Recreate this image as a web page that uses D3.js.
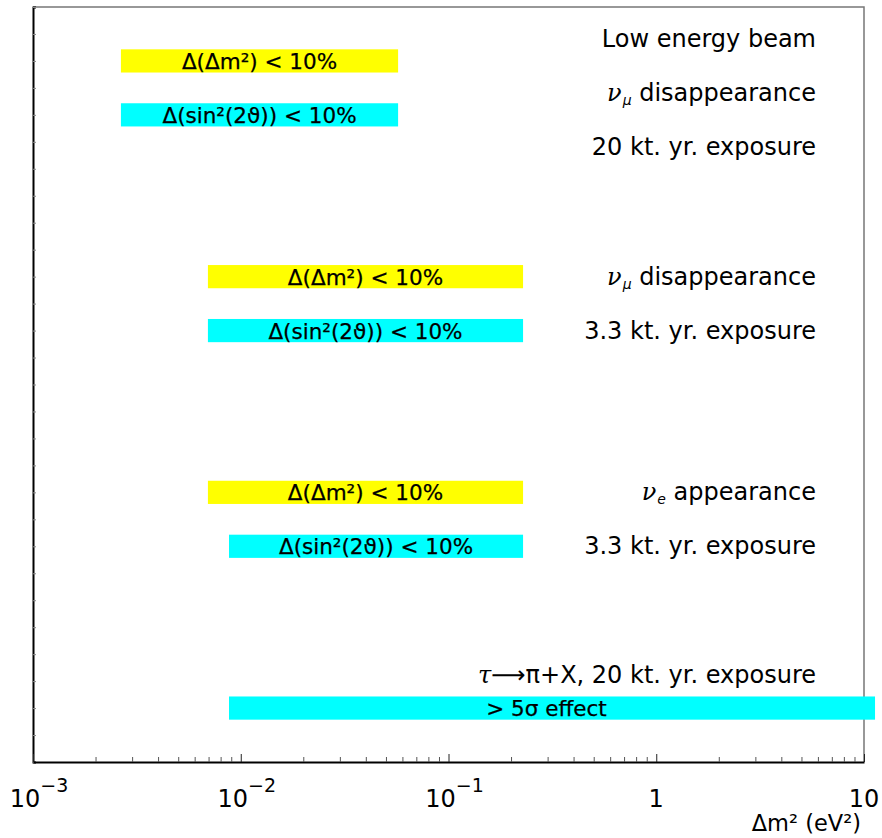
<!DOCTYPE html>
<html>
<head>
<meta charset="utf-8">
<script src="https://cdn.jsdelivr.net/npm/d3@7"></script>
<style>
  body { margin: 0; background: #fff; }
  svg { display: block; font-family: 'DejaVu Sans', 'Liberation Sans', sans-serif; }
</style>
</head>
<body>
<svg id="chart"></svg>
<script>
// bands: range in dm^2 (eV^2) and row on the vertical scale
const bandText = ['Δ(Δm²) < 10%', 'Δ(sin²(2ϑ)) < 10%',
                  'Δ(Δm²) < 10%', 'Δ(sin²(2ϑ)) < 10%',
                  'Δ(Δm²) < 10%', 'Δ(sin²(2ϑ)) < 10%',
                  '> 5σ effect'];
const bandKind = ['dm2', 'sin2', 'dm2', 'sin2', 'dm2', 'sin2', 'sigma'];
const bandLow  = [0.00265, 0.00265, 0.00695, 0.00695, 0.00695, 0.00878, 0.00878];
const bandHigh = [0.0572, 0.0572, 0.2285, 0.2285, 0.2285, 0.2285, 11.3];
const bandRow  = [1, 2, 5, 6, 9, 10, 13];

// notes on the right, each one a list of [text, style] pieces
const noteText = [
  [['Low energy beam', '']],
  [['ν', 'i'], ['μ', 'sub'], [' disappearance', '']],
  [['20 kt. yr. exposure', '']],
  [['ν', 'i'], ['μ', 'sub'], [' disappearance', '']],
  [['3.3 kt. yr. exposure', '']],
  [['ν', 'i'], ['e', 'sub'], [' appearance', '']],
  [['3.3 kt. yr. exposure', '']],
  [['τ', 'i'], ['⟶', ''], ['π+X, 20 kt. yr. exposure', '']]
];
const noteRow = [0.74, 1.74, 2.74, 5.15, 6.15, 9.15, 10.15, 12.54];

const xMajor = [1e-3, 1e-2, 1e-1, 1, 10];
const xMajorBase = ['10', '10', '10', '1', '10'];
const xMajorExp  = ['−3', '−2', '−1', '', ''];
const xTitle = 'Δm² (eV²)';

const width = 882, height = 838;
const margin = {top: 7, right: 18, bottom: 75, left: 33};

const svg = d3.select('#chart')
  .attr('width', width)
  .attr('height', height);

const x = d3.scaleLog()
  .domain([1e-3, 10])
  .range([margin.left, width - margin.right]);

const y = d3.scaleLinear()
  .domain([0, 14])
  .range([margin.top, height - margin.bottom - 1]);

const colour = {dm2: '#ffff00', sin2: '#00ffff', sigma: '#00ffff'};
const barH = 0.43;

// frame (top and right)
svg.append('path')
  .attr('d', `M${x(1e-3)},${y(0)}H${x(10)}V${y(14)}`)
  .attr('fill', 'none')
  .attr('stroke', '#777')
  .attr('stroke-width', 1.5);

// bands
const bands = d3.range(bandText.length);
svg.selectAll('rect.band')
  .data(bands)
  .enter()
  .append('rect')
  .attr('class', 'band')
  .attr('x', i => x(bandLow[i]))
  .attr('width', i => x(bandHigh[i]) - x(bandLow[i]))
  .attr('y', i => y(bandRow[i] - barH / 2))
  .attr('height', i => y(barH) - y(0))
  .attr('fill', i => colour[bandKind[i]]);

svg.selectAll('text.band')
  .data(bands)
  .enter()
  .append('text')
  .attr('class', 'band')
  .attr('x', i => (x(bandLow[i]) + Math.min(x(bandHigh[i]), x(10))) / 2)
  .attr('y', i => y(bandRow[i]) + 8)
  .attr('text-anchor', 'middle')
  .attr('font-size', 21.5)
  .attr('fill', '#000')
  .attr('stroke', '#000')
  .attr('stroke-width', 0.25)
  .text(i => bandText[i]);

// notes
noteText.forEach((pieces, k) => {
  const t = svg.append('text')
    .attr('x', 816)
    .attr('y', y(noteRow[k]))
    .attr('text-anchor', 'end')
    .attr('font-size', 24)
    .attr('fill', '#000');
  pieces.forEach(p => {
    const s = t.append('tspan').text(p[0]);
    if (p[1] === 'i') s.attr('font-style', 'italic').attr('font-family', 'DejaVu Serif');
    if (p[1] === 'sub') s.attr('font-size', 14).attr('font-style', 'italic').attr('dy', 4).attr('dx', 1);
    if (p[1] === '' && pieces.length > 1 && pieces[0][1] !== '' && k !== 7) s.attr('dy', -4);
  });
});

// y axis: no labels, small inward ticks
svg.append('g')
  .attr('transform', `translate(${margin.left},0)`)
  .call(d3.axisLeft(y).tickValues(d3.range(0, 14.01, 0.5)).tickSize(-3).tickFormat(''))
  .call(g => g.select('.domain').attr('stroke', '#000').attr('stroke-width', 2))
  .call(g => g.selectAll('.tick line').attr('stroke', '#888'));

// x axis
const xMinor = [];
[1e-3, 1e-2, 1e-1, 1].forEach(d => {
  for (let m = 2; m <= 9; m++) xMinor.push(d * m);
});

svg.append('g')
  .attr('transform', `translate(0,${y(14)})`)
  .call(d3.axisBottom(x).tickValues(xMinor).tickSize(-5).tickFormat('').tickSizeOuter(0))
  .call(g => g.select('.domain').attr('stroke', '#000').attr('stroke-width', 2))
  .call(g => g.selectAll('.tick line').attr('stroke', '#555'));

svg.append('g')
  .attr('transform', `translate(0,${y(14)})`)
  .call(d3.axisBottom(x).tickValues(xMajor).tickSize(-8).tickFormat('').tickSizeOuter(0))
  .call(g => g.select('.domain').remove())
  .call(g => g.selectAll('.tick line').attr('stroke', '#222'));

xMajor.forEach((v, i) => {
  const t = svg.append('text')
    .attr('x', x(v) + (xMajorExp[i] ? 6 : 0))
    .attr('y', 807)
    .attr('text-anchor', 'middle')
    .attr('font-size', 24)
    .attr('fill', '#000');
  t.append('tspan').text(xMajorBase[i]);
  if (xMajorExp[i]) {
    t.append('tspan').text(xMajorExp[i]).attr('font-size', 19).attr('dy', -15);
  }
});

svg.append('text')
  .attr('x', 861)
  .attr('y', 831)
  .attr('text-anchor', 'end')
  .attr('font-size', 22.5)
  .attr('fill', '#000')
  .text(xTitle);
</script>
</body>
</html>
